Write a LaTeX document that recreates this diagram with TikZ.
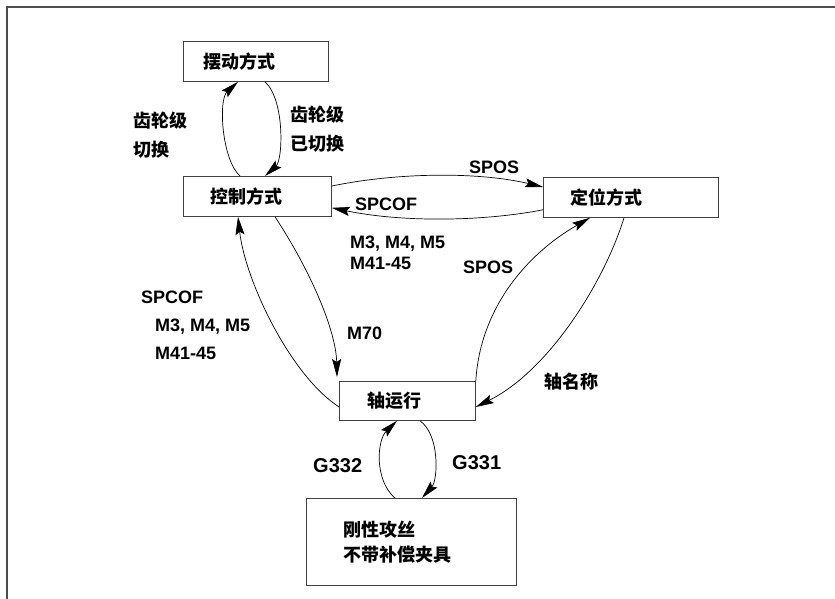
\documentclass[tikz,border=0pt]{standalone}
\usepackage{fontspec}
\setmainfont{Liberation Sans}
\newfontfamily\cjk{Noto Sans CJK SC}
\usetikzlibrary{arrows.meta}
\tikzset{
  box/.style={draw=black!75, line width=0.8pt, anchor=north west, align=left,
    inner ysep=0pt, font=\cjk\bfseries\fontsize{18}{25}\selectfont},
  lab/.style={font=\bfseries\fontsize{18}{21}\selectfont, inner sep=0pt, anchor=west, align=left},
  clab/.style={font=\cjk\bfseries\fontsize{18}{29}\selectfont, inner sep=0pt, anchor=west, align=left},
  glab/.style={font=\bfseries\fontsize{20}{24}\selectfont, inner sep=0pt, anchor=west},
  >={Stealth[length=18pt,width=9pt,inset=3pt]},
  conn/.style={line width=0.7pt, ->}
}
\begin{document}
\begin{tikzpicture}[x=1pt,y=1pt]
\fill[white] (0,0) rectangle (835,-599);
\useasboundingbox (0,0) rectangle (835,-599);
\draw[line width=1.5pt, black!70] (7,-599) -- (7,-7) -- (835,-7);

% boxes
\node[box, minimum width=145pt, minimum height=40pt, text width=105pt, inner xsep=20pt] (swing) at (183,-41) {摆动方式};
\node[box, minimum width=148pt, minimum height=40pt, text width=94pt, inner xsep=27pt] (ctrl) at (183,-176) {控制方式};
\node[box, minimum width=175pt, minimum height=40pt, text width=121pt, inner xsep=27pt] (pos) at (543,-177) {定位方式};
\node[box, minimum width=136pt, minimum height=39pt, text width=80pt, inner xsep=28pt] (axis) at (339,-381) {轴运行};
\node[box, minimum width=210pt, minimum height=87pt, text width=136pt, inner xsep=37pt] (tap) at (306,-498) {刚性攻丝\\不带补偿夹具};

% connectors
\draw[conn] ([xshift=57pt]ctrl.north west) .. controls (222,-160) and (218,-100) .. ([xshift=55pt]swing.south west);
\draw[conn] ([xshift=82pt]swing.south west) .. controls (285,-100) and (283,-160) .. ([xshift=82pt]ctrl.north west);
\draw[conn] ([yshift=-10pt]ctrl.north east) .. controls (400,-172) and (480,-172) .. ([yshift=-10pt]pos.north west);
\draw[conn] ([yshift=8pt]pos.south west) .. controls (480,-222) and (400,-222) .. ([yshift=9pt]ctrl.south east);
\draw[conn] ([xshift=92pt]ctrl.south west) .. controls (310,-270) and (336,-330) .. ([shift={(-2pt,4pt)}]axis.north west);
\draw[conn] ([yshift=-26pt]axis.north west) .. controls (290,-375) and (245,-280) .. ([xshift=55pt]ctrl.south west);
\draw[conn] (axis.north east) .. controls (480,-310) and (525,-255) .. ([xshift=47pt]pos.south west);
\draw[conn] ([xshift=81pt]pos.south west) .. controls (605,-280) and (550,-370) .. ([yshift=-26pt]axis.north east);
\draw[conn] ([xshift=81pt]axis.south west) .. controls (440,-435) and (438,-480) .. ([xshift=116pt]tap.north west);
\draw[conn] ([xshift=89pt]tap.north west) .. controls (374,-480) and (377,-440) .. ([xshift=58pt]axis.south west);

% labels
\node[clab] (l1) at (133,-135.5) {齿轮级\\切换};
\node[clab] (l2) at (290,-129.5) {齿轮级\\已切换};
\node[lab] (l3) at (469,-167) {SPOS};
\node[lab] (l4) at (355,-204) {SPCOF};
\node[lab] (l5) at (350,-252.5) {M3, M4, M5\\M41-45};
\node[lab] (l6) at (463,-267) {SPOS};
\node[lab, font=\bfseries\fontsize{18}{28}\selectfont] (l7) at (141,-325) {SPCOF\\\hspace*{14pt}M3, M4, M5\\\hspace*{14pt}M41-45};
\node[lab] (l8) at (347,-333) {M70};
\node[clab] (l9) at (544,-382) {轴名称};
\node[glab] (l10) at (313,-466) {G332};
\node[glab] (l11) at (452,-463) {G331};
\end{tikzpicture}
\end{document}
